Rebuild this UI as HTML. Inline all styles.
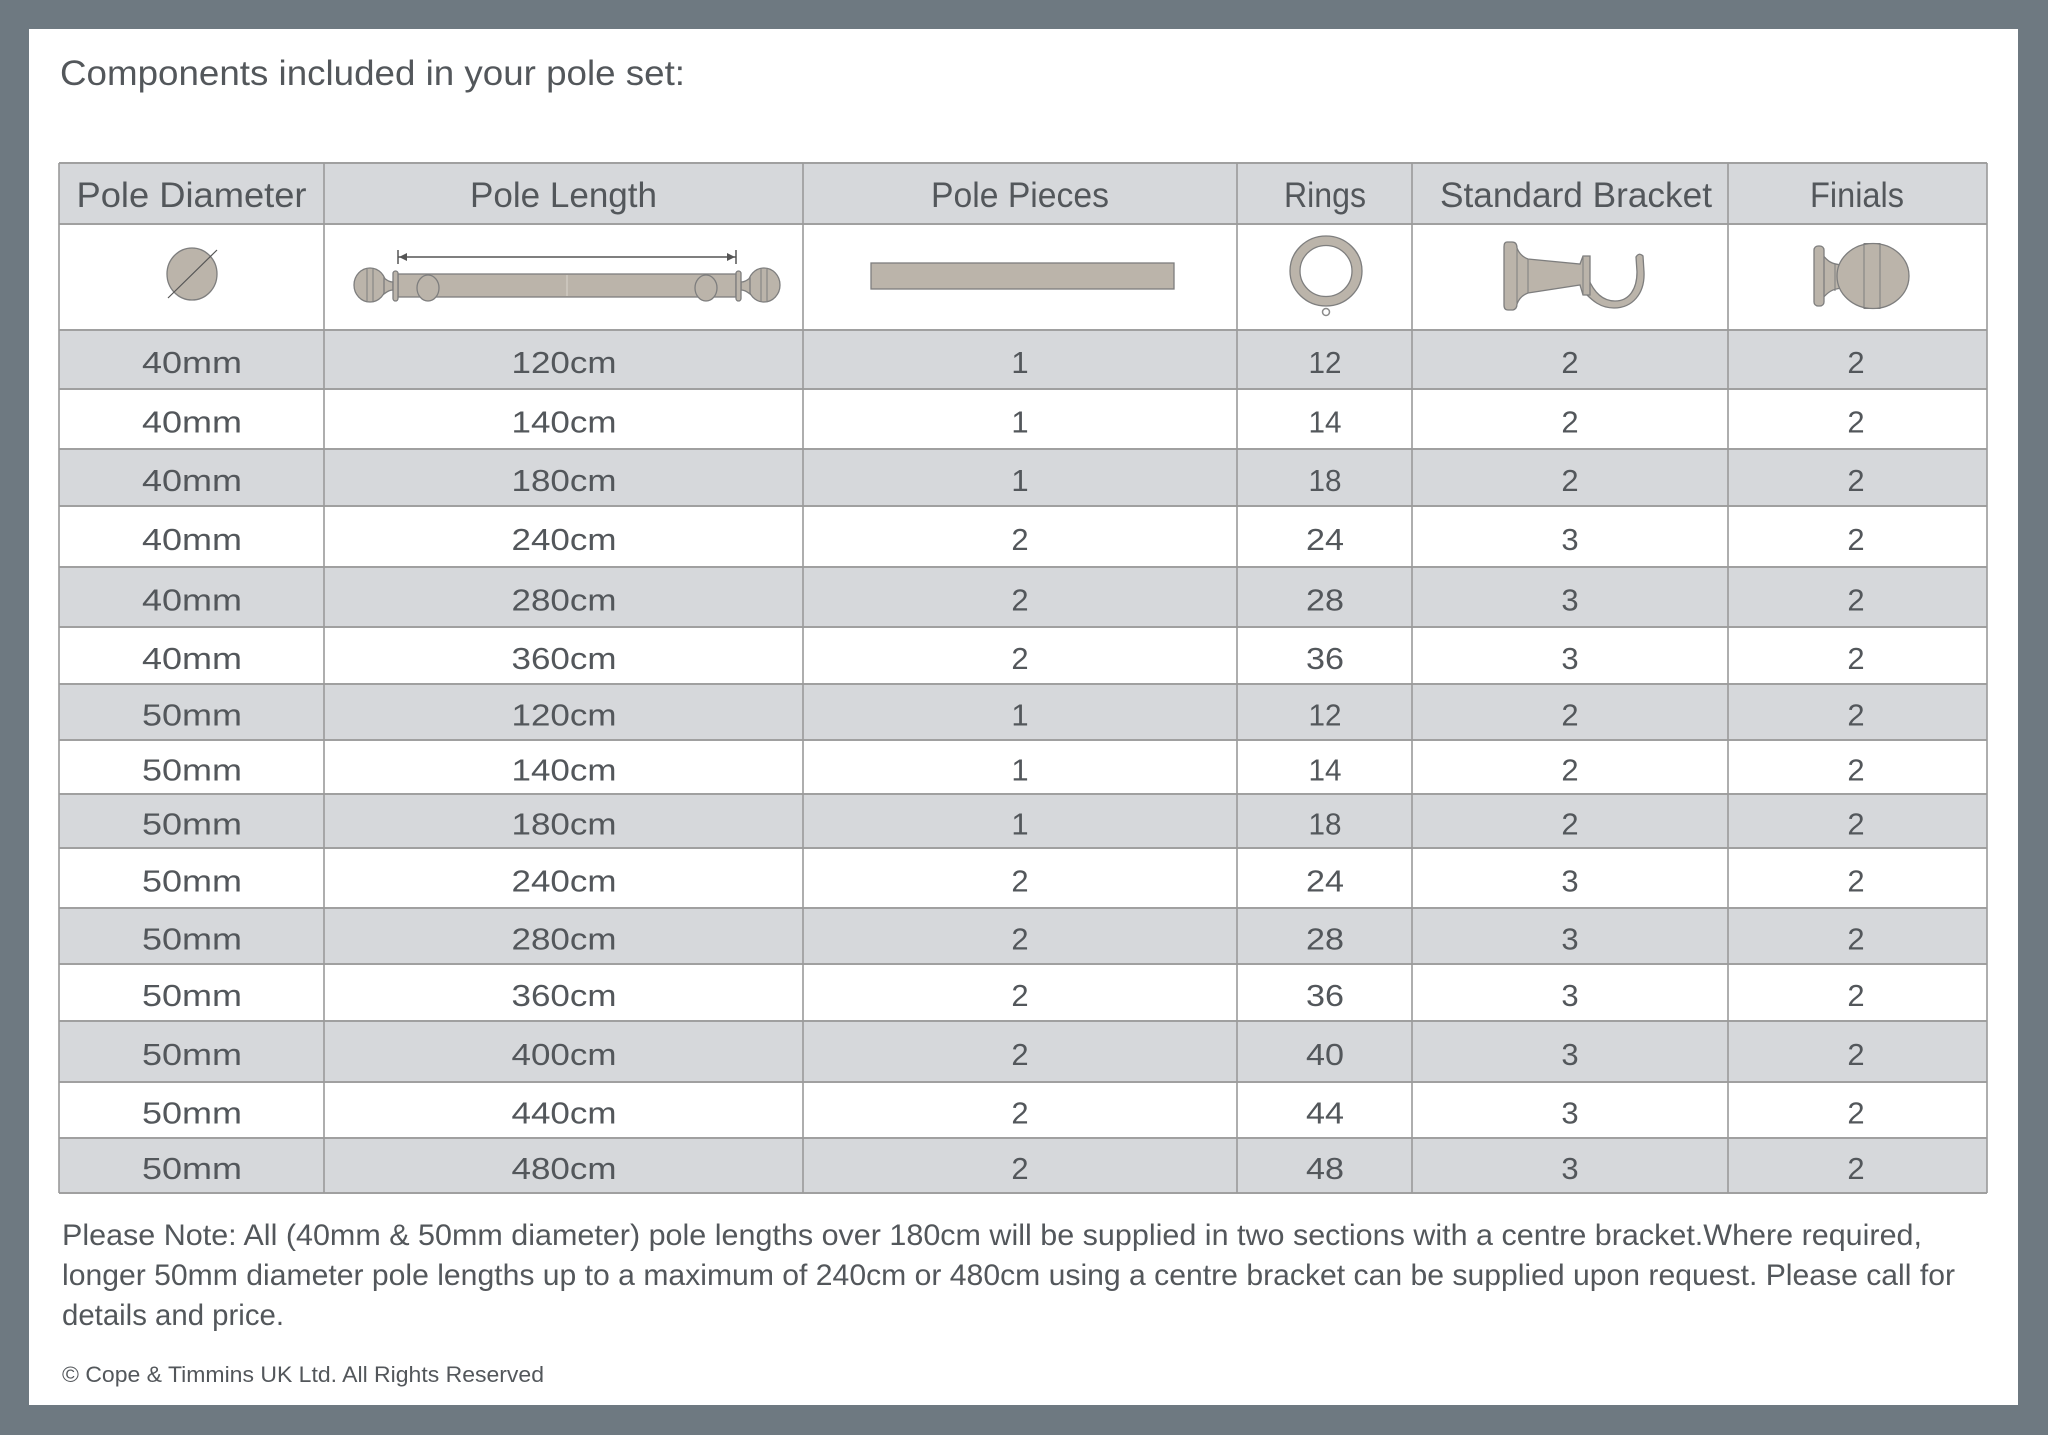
<!DOCTYPE html>
<html>
<head>
<meta charset="utf-8">
<style>
html,body{margin:0;padding:0;background:#6e7981;}
svg{display:block;}
text{font-family:"Liberation Sans",sans-serif;fill:#53575b;}
.h{font-size:35px;}
.d{font-size:31px;}
</style>
</head>
<body>
<svg width="2048" height="1435" viewBox="0 0 2048 1435" xmlns="http://www.w3.org/2000/svg">
<rect x="0" y="0" width="2048" height="1435" fill="#6e7981"/>
<rect x="29" y="29" width="1989" height="1376" fill="#ffffff"/>

<text x="60" y="85" font-size="35" textLength="625" lengthAdjust="spacingAndGlyphs">Components included in your pole set:</text>

<!-- row fills -->
<g fill="#d6d8db">
<rect x="59" y="163" width="1928" height="61"/>
<rect x="59" y="330" width="1928" height="59"/>
<rect x="59" y="449" width="1928" height="57"/>
<rect x="59" y="567" width="1928" height="60"/>
<rect x="59" y="684" width="1928" height="56"/>
<rect x="59" y="794" width="1928" height="54"/>
<rect x="59" y="908" width="1928" height="56"/>
<rect x="59" y="1021" width="1928" height="61"/>
<rect x="59" y="1138" width="1928" height="55"/>
</g>

<!-- horizontal lines -->
<g stroke="#a0a0a0" stroke-width="2">
<line x1="59" y1="163" x2="1987" y2="163"/>
<line x1="59" y1="224" x2="1987" y2="224"/>
<line x1="59" y1="330" x2="1987" y2="330"/>
<line x1="59" y1="389" x2="1987" y2="389"/>
<line x1="59" y1="449" x2="1987" y2="449"/>
<line x1="59" y1="506" x2="1987" y2="506"/>
<line x1="59" y1="567" x2="1987" y2="567"/>
<line x1="59" y1="627" x2="1987" y2="627"/>
<line x1="59" y1="684" x2="1987" y2="684"/>
<line x1="59" y1="740" x2="1987" y2="740"/>
<line x1="59" y1="794" x2="1987" y2="794"/>
<line x1="59" y1="848" x2="1987" y2="848"/>
<line x1="59" y1="908" x2="1987" y2="908"/>
<line x1="59" y1="964" x2="1987" y2="964"/>
<line x1="59" y1="1021" x2="1987" y2="1021"/>
<line x1="59" y1="1082" x2="1987" y2="1082"/>
<line x1="59" y1="1138" x2="1987" y2="1138"/>
<line x1="59" y1="1193" x2="1987" y2="1193"/>
</g>
<!-- vertical lines -->
<g stroke="#9a9a9a" stroke-width="1.6">
<line x1="59" y1="163" x2="59" y2="1193"/>
<line x1="324" y1="163" x2="324" y2="1193"/>
<line x1="803" y1="163" x2="803" y2="1193"/>
<line x1="1237" y1="163" x2="1237" y2="1193"/>
<line x1="1412" y1="163" x2="1412" y2="1193"/>
<line x1="1728" y1="163" x2="1728" y2="1193"/>
<line x1="1987" y1="163" x2="1987" y2="1193"/>
</g>

<!-- header -->
<g class="h" text-anchor="middle">
<text x="191.5" y="207" textLength="230" lengthAdjust="spacingAndGlyphs">Pole Diameter</text>
<text x="563.5" y="207" textLength="187" lengthAdjust="spacingAndGlyphs">Pole Length</text>
<text x="1020" y="207" textLength="178" lengthAdjust="spacingAndGlyphs">Pole Pieces</text>
<text x="1325" y="207" textLength="82" lengthAdjust="spacingAndGlyphs">Rings</text>
<text x="1576" y="207" textLength="272" lengthAdjust="spacingAndGlyphs">Standard Bracket</text>
<text x="1857" y="207" textLength="94" lengthAdjust="spacingAndGlyphs">Finials</text>
</g>

<!-- icons -->
<g fill="#bbb4aa" stroke="#7e7e7e" stroke-width="1.3">
  <!-- diameter -->
  <ellipse cx="192" cy="274" rx="25" ry="26"/>
  <line x1="168" y1="298" x2="217" y2="250" stroke="#555" stroke-width="1.2"/>

  <!-- pole length -->
  <rect x="398" y="274" width="338" height="23"/>
  <line x1="567" y1="275" x2="567" y2="296" stroke="#d9d4cc" stroke-width="1"/>
  <ellipse cx="428" cy="288" rx="11" ry="13"/>
  <ellipse cx="706" cy="288" rx="11" ry="13"/>
  <g id="lf">
    <ellipse cx="370" cy="285" rx="16" ry="17"/>
    <line x1="367" y1="269" x2="367" y2="301" stroke-width="1"/>
    <line x1="373" y1="268.5" x2="373" y2="301.5" stroke-width="1"/>
    <path d="M384,278 C388,281 390,282 393,282 L393,290 C390,290 388,291 384,294 Z"/>
    <rect x="393" y="271" width="5" height="30" rx="2.5"/>
  </g>
  <g transform="translate(1134,0) scale(-1,1)">
    <ellipse cx="370" cy="285" rx="16" ry="17"/>
    <line x1="367" y1="269" x2="367" y2="301" stroke-width="1"/>
    <line x1="373" y1="268.5" x2="373" y2="301.5" stroke-width="1"/>
    <path d="M384,278 C388,281 390,282 393,282 L393,290 C390,290 388,291 384,294 Z"/>
    <rect x="393" y="271" width="5" height="30" rx="2.5"/>
  </g>
  <g stroke="#555" stroke-width="1.5">
    <line x1="398" y1="257" x2="736" y2="257"/>
    <line x1="398" y1="250" x2="398" y2="264"/>
    <line x1="736" y1="250" x2="736" y2="264"/>
  </g>
  <path d="M399,257 L407,253 L407,261 Z M735,257 L727,253 L727,261 Z" fill="#555" stroke="none"/>

  <!-- pole pieces -->
  <rect x="871" y="263" width="303" height="26"/>

  <!-- ring -->
  <path fill-rule="evenodd" d="M1290,271 A36,35 0 1,0 1362,271 A36,35 0 1,0 1290,271 Z M1300,271 A26,25.5 0 1,0 1352,271 A26,25.5 0 1,0 1300,271 Z"/>
  <circle cx="1326" cy="312" r="3.5" fill="#fff" stroke="#8a8a8a" stroke-width="1.5"/>

  <!-- bracket -->
  <path d="M1588,278 C1595,295 1605,301 1615,301 C1630,301 1637,288 1637,272 L1636,257 Q1639,252 1643,256 L1644,272 C1645,294 1632,308 1614,308 C1600,308 1592,300 1586,294 Z"/>
  <path d="M1507,242 Q1504,242 1504,247 L1504,305 Q1504,310 1508,310 L1513,310 Q1517,309 1517,304 Q1520,296 1528,293 L1580,285 L1583,295 L1590,295 L1590,256 L1583,256 L1580,264 L1528,259 Q1520,256 1517,248 Q1517,242 1512,242 Z"/>
  <line x1="1517" y1="249" x2="1517" y2="303" stroke-width="1"/>
  <line x1="1528" y1="259" x2="1528" y2="293" stroke-width="1"/>
  <line x1="1583" y1="257" x2="1583" y2="294" stroke-width="1"/>

  <!-- finial -->
  <path d="M1822,254 C1828,262 1832,264 1842,265 L1842,288 C1832,289 1828,292 1822,299 Z"/>
  <ellipse cx="1873" cy="276" rx="36" ry="32.5"/>
  <rect x="1864" y="243.5" width="16" height="65" fill="none" stroke-width="1"/>
  <rect x="1814" y="246" width="10" height="60" rx="4"/>
  <line x1="1835" y1="264" x2="1835" y2="291" stroke-width="1"/>
</g>

<!-- data -->
<g class="d" text-anchor="middle">
<text x="192" y="373" textLength="100" lengthAdjust="spacingAndGlyphs">40mm</text>
<text x="564" y="373" textLength="105" lengthAdjust="spacingAndGlyphs">120cm</text>
<text x="1020" y="373">1</text>
<text x="1325" y="373" textLength="33" lengthAdjust="spacingAndGlyphs">12</text>
<text x="1570" y="373">2</text>
<text x="1856" y="373">2</text>

<text x="192" y="432.5" textLength="100" lengthAdjust="spacingAndGlyphs">40mm</text>
<text x="564" y="432.5" textLength="105" lengthAdjust="spacingAndGlyphs">140cm</text>
<text x="1020" y="432.5">1</text>
<text x="1325" y="432.5" textLength="33" lengthAdjust="spacingAndGlyphs">14</text>
<text x="1570" y="432.5">2</text>
<text x="1856" y="432.5">2</text>

<text x="192" y="491" textLength="100" lengthAdjust="spacingAndGlyphs">40mm</text>
<text x="564" y="491" textLength="105" lengthAdjust="spacingAndGlyphs">180cm</text>
<text x="1020" y="491">1</text>
<text x="1325" y="491" textLength="33" lengthAdjust="spacingAndGlyphs">18</text>
<text x="1570" y="491">2</text>
<text x="1856" y="491">2</text>

<text x="192" y="550" textLength="100" lengthAdjust="spacingAndGlyphs">40mm</text>
<text x="564" y="550" textLength="105" lengthAdjust="spacingAndGlyphs">240cm</text>
<text x="1020" y="550">2</text>
<text x="1325" y="550" textLength="38" lengthAdjust="spacingAndGlyphs">24</text>
<text x="1570" y="550">3</text>
<text x="1856" y="550">2</text>

<text x="192" y="610.5" textLength="100" lengthAdjust="spacingAndGlyphs">40mm</text>
<text x="564" y="610.5" textLength="105" lengthAdjust="spacingAndGlyphs">280cm</text>
<text x="1020" y="610.5">2</text>
<text x="1325" y="610.5" textLength="38" lengthAdjust="spacingAndGlyphs">28</text>
<text x="1570" y="610.5">3</text>
<text x="1856" y="610.5">2</text>

<text x="192" y="669" textLength="100" lengthAdjust="spacingAndGlyphs">40mm</text>
<text x="564" y="669" textLength="105" lengthAdjust="spacingAndGlyphs">360cm</text>
<text x="1020" y="669">2</text>
<text x="1325" y="669" textLength="38" lengthAdjust="spacingAndGlyphs">36</text>
<text x="1570" y="669">3</text>
<text x="1856" y="669">2</text>

<text x="192" y="725.5" textLength="100" lengthAdjust="spacingAndGlyphs">50mm</text>
<text x="564" y="725.5" textLength="105" lengthAdjust="spacingAndGlyphs">120cm</text>
<text x="1020" y="725.5">1</text>
<text x="1325" y="725.5" textLength="33" lengthAdjust="spacingAndGlyphs">12</text>
<text x="1570" y="725.5">2</text>
<text x="1856" y="725.5">2</text>

<text x="192" y="780.5" textLength="100" lengthAdjust="spacingAndGlyphs">50mm</text>
<text x="564" y="780.5" textLength="105" lengthAdjust="spacingAndGlyphs">140cm</text>
<text x="1020" y="780.5">1</text>
<text x="1325" y="780.5" textLength="33" lengthAdjust="spacingAndGlyphs">14</text>
<text x="1570" y="780.5">2</text>
<text x="1856" y="780.5">2</text>

<text x="192" y="834.5" textLength="100" lengthAdjust="spacingAndGlyphs">50mm</text>
<text x="564" y="834.5" textLength="105" lengthAdjust="spacingAndGlyphs">180cm</text>
<text x="1020" y="834.5">1</text>
<text x="1325" y="834.5" textLength="33" lengthAdjust="spacingAndGlyphs">18</text>
<text x="1570" y="834.5">2</text>
<text x="1856" y="834.5">2</text>

<text x="192" y="891.5" textLength="100" lengthAdjust="spacingAndGlyphs">50mm</text>
<text x="564" y="891.5" textLength="105" lengthAdjust="spacingAndGlyphs">240cm</text>
<text x="1020" y="891.5">2</text>
<text x="1325" y="891.5" textLength="38" lengthAdjust="spacingAndGlyphs">24</text>
<text x="1570" y="891.5">3</text>
<text x="1856" y="891.5">2</text>

<text x="192" y="949.5" textLength="100" lengthAdjust="spacingAndGlyphs">50mm</text>
<text x="564" y="949.5" textLength="105" lengthAdjust="spacingAndGlyphs">280cm</text>
<text x="1020" y="949.5">2</text>
<text x="1325" y="949.5" textLength="38" lengthAdjust="spacingAndGlyphs">28</text>
<text x="1570" y="949.5">3</text>
<text x="1856" y="949.5">2</text>

<text x="192" y="1006" textLength="100" lengthAdjust="spacingAndGlyphs">50mm</text>
<text x="564" y="1006" textLength="105" lengthAdjust="spacingAndGlyphs">360cm</text>
<text x="1020" y="1006">2</text>
<text x="1325" y="1006" textLength="38" lengthAdjust="spacingAndGlyphs">36</text>
<text x="1570" y="1006">3</text>
<text x="1856" y="1006">2</text>

<text x="192" y="1065" textLength="100" lengthAdjust="spacingAndGlyphs">50mm</text>
<text x="564" y="1065" textLength="105" lengthAdjust="spacingAndGlyphs">400cm</text>
<text x="1020" y="1065">2</text>
<text x="1325" y="1065" textLength="38" lengthAdjust="spacingAndGlyphs">40</text>
<text x="1570" y="1065">3</text>
<text x="1856" y="1065">2</text>

<text x="192" y="1123.5" textLength="100" lengthAdjust="spacingAndGlyphs">50mm</text>
<text x="564" y="1123.5" textLength="105" lengthAdjust="spacingAndGlyphs">440cm</text>
<text x="1020" y="1123.5">2</text>
<text x="1325" y="1123.5" textLength="38" lengthAdjust="spacingAndGlyphs">44</text>
<text x="1570" y="1123.5">3</text>
<text x="1856" y="1123.5">2</text>

<text x="192" y="1179" textLength="100" lengthAdjust="spacingAndGlyphs">50mm</text>
<text x="564" y="1179" textLength="105" lengthAdjust="spacingAndGlyphs">480cm</text>
<text x="1020" y="1179">2</text>
<text x="1325" y="1179" textLength="38" lengthAdjust="spacingAndGlyphs">48</text>
<text x="1570" y="1179">3</text>
<text x="1856" y="1179">2</text>
</g>

<!-- notes -->
<g font-size="30">
<text x="62" y="1245" textLength="1860" lengthAdjust="spacingAndGlyphs">Please Note: All (40mm &amp; 50mm diameter) pole lengths over 180cm will be supplied in two sections with a centre bracket.Where required,</text>
<text x="62" y="1285" textLength="1893" lengthAdjust="spacingAndGlyphs">longer 50mm diameter pole lengths up to a maximum of 240cm or 480cm using a centre bracket can be supplied upon request. Please call for</text>
<text x="62" y="1325" textLength="222" lengthAdjust="spacingAndGlyphs">details and price.</text>
</g>
<text x="62" y="1382" font-size="22" textLength="482" lengthAdjust="spacingAndGlyphs">© Cope &amp; Timmins UK Ltd.  All Rights Reserved</text>
</svg>
</body>
</html>
